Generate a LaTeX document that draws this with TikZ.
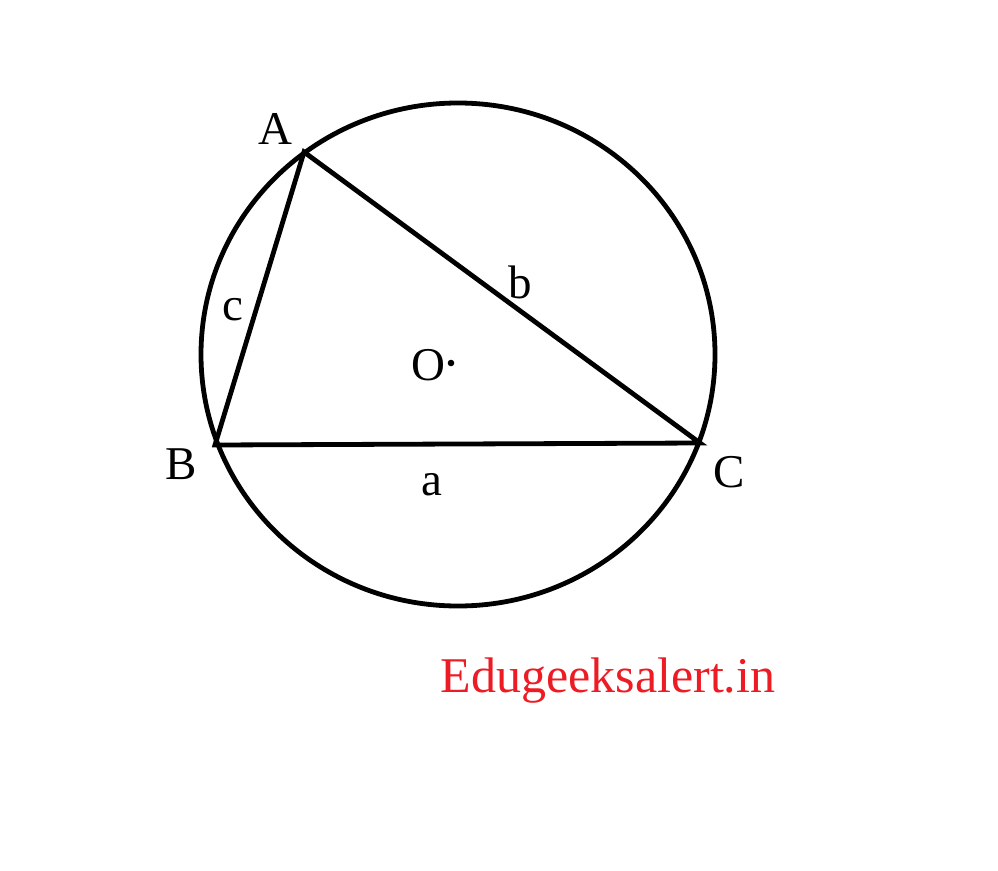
\documentclass[tikz,border=0pt]{standalone}
\usepackage{fontspec}
\setmainfont{Liberation Serif}
\definecolor{wmred}{RGB}{237,28,36}
\begin{document}
\begin{tikzpicture}[x=1pt,y=-1pt,
  lbl/.style={anchor=base,inner sep=0pt,font=\fontsize{47}{50}\selectfont},
  edge/.style={line width=4.8pt,line join=miter}]
\useasboundingbox (0,0) rectangle (998,870);
\coordinate (O) at (458,354.5);
\coordinate (A) at (304,152);
\coordinate (B) at (215,445);
\coordinate (C) at (700,443);
\draw[edge] (O) ellipse [x radius=257, y radius=251.5];
\draw[edge] (A) -- (B) -- (C) -- cycle;
\fill (451,363) circle [radius=3.3];
\node[lbl] (lA) at (275,144) {A};
\node[lbl] (lB) at (181,479) {B};
\node[lbl] (lC) at (729,487) {C};
\node[lbl] (lO) at (428,380) {O};
\node[lbl] (la) at (432,495) {a};
\node[lbl] (lb) at (520,298) {b};
\node[lbl] (lc) at (233,320) {c};
\node[lbl,text=wmred,font=\fontsize{50}{54}\selectfont] (web) at (608,692) {Edugeeksalert.in};
\end{tikzpicture}
\end{document}
